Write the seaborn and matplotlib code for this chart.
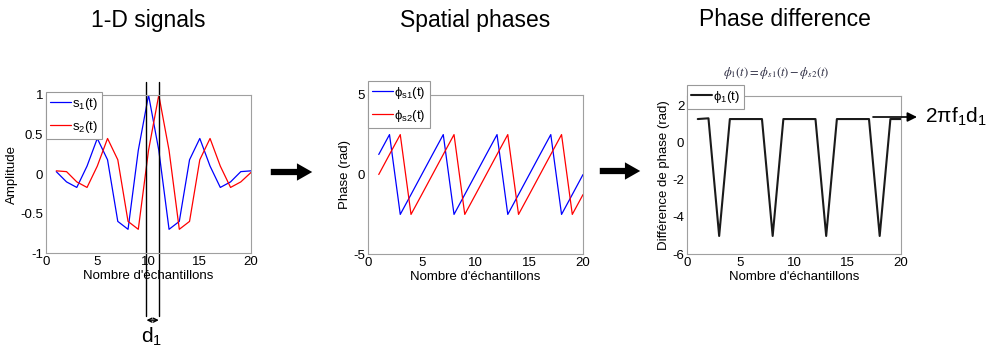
import pandas as pd
import matplotlib.pyplot as plt
import seaborn as sns

samples = [1, 2, 3, 4, 5, 6, 7, 8, 9, 10, 11, 12, 13, 14, 15, 16, 17, 18, 19, 20]
s1 = [0.03, -0.1, -0.17, 0.1, 0.45, 0.18, -0.6, -0.7, 0.3, 1.0,
      0.3, -0.7, -0.6, 0.18, 0.45, 0.1, -0.17, -0.1, 0.03, 0.04]
s2 = [0.04, 0.03, -0.1, -0.17, 0.1, 0.45, 0.18, -0.6, -0.7, 0.3,
      1.0, 0.3, -0.7, -0.6, 0.18, 0.45, 0.1, -0.17, -0.1, 0.02]
phi_s1 = [1.26, 2.51, -2.51, -1.26, 0.0, 1.26, 2.51, -2.51, -1.26, 0.0,
          1.26, 2.51, -2.51, -1.26, 0.0, 1.26, 2.51, -2.51, -1.26, 0.0]
phi_s2 = [0.0, 1.26, 2.51, -2.51, -1.26, 0.0, 1.26, 2.51, -2.51, -1.26,
          0.0, 1.26, 2.51, -2.51, -1.26, 0.0, 1.26, 2.51, -2.51, -1.26]
phi_1 = [1.26, 1.3, -5.03, 1.26, 1.26, 1.26, 1.26, -5.03, 1.26, 1.26,
         1.26, 1.26, -5.03, 1.26, 1.26, 1.26, 1.26, -5.03, 1.26, 1.26]

titles = ['1-D signals', 'Spatial phases', 'Phase difference']
xlabel = "Nombre d'échantillons"
ylabels = ['Amplitude', 'Phase (rad)', 'Différence de phase (rad)']

df = pd.DataFrame({'n': samples, 's1': s1, 's2': s2,
                   'ps1': phi_s1, 'ps2': phi_s2, 'p1': phi_1})

sns.set_style('white')
plt.rcParams['font.family'] = ['Liberation Sans', 'DejaVu Sans']
plt.rcParams['mathtext.fontset'] = 'custom'
plt.rcParams['mathtext.rm'] = 'Liberation Sans'
plt.rcParams['mathtext.it'] = 'Liberation Sans:italic'
plt.rcParams['axes.unicode_minus'] = False
for k in ['text.color', 'axes.labelcolor', 'xtick.labelcolor', 'ytick.labelcolor']:
    plt.rcParams[k] = 'black'

fig = plt.figure(figsize=(10.03, 3.57), dpi=100)
ax1 = fig.add_axes([0.0459, 0.2913, 0.2044, 0.4426])
ax2 = fig.add_axes([0.3669, 0.2885, 0.2144, 0.4454])
ax3 = fig.add_axes([0.6850, 0.2885, 0.2134, 0.4426])

sns.lineplot(data=df, x='n', y='s1', ax=ax1, color='#0000ff', lw=0.9, label=r'$\mathrm{s_1(t)}$')
sns.lineplot(data=df, x='n', y='s2', ax=ax1, color='#ff0000', lw=0.9, label=r'$\mathrm{s_2(t)}$')
sns.lineplot(data=df, x='n', y='ps1', ax=ax2, color='#0000ff', lw=0.9, label=r'$\mathrm{\phi_{s1}(t)}$')
sns.lineplot(data=df, x='n', y='ps2', ax=ax2, color='#ff0000', lw=0.9, label=r'$\mathrm{\phi_{s2}(t)}$')
sns.lineplot(data=df, x='n', y='p1', ax=ax3, color='#1a1a1a', lw=1.5, label=r'$\mathrm{\phi_1(t)}$')

ax1.set_ylim(-1, 1)
ax1.set_yticks([-1, -0.5, 0, 0.5, 1])
ax1.set_yticklabels(['-1', '-0.5', '0', '0.5', '1'])
ax2.set_ylim(-5, 5)
ax2.set_yticks([-5, 0, 5])
ax3.set_ylim(-6, 2.5)
ax3.set_yticks([-6, -4, -2, 0, 2])

legend_y = [1.02, 1.09, 1.07]
for ax, yl, ly in zip([ax1, ax2, ax3], ylabels, legend_y):
    ax.set_xlim(0, 20)
    ax.set_xticks([0, 5, 10, 15, 20])
    ax.set_xlabel(xlabel, fontsize=9.5, labelpad=1.5)
    ax.set_ylabel(yl, fontsize=9.5, labelpad=2)
    ax.tick_params(labelsize=9.5, direction='in', length=3, color='#999999', pad=2)
    for sp in ax.spines.values():
        sp.set_color('#a0a0a0')
        sp.set_linewidth(0.8)
    leg = ax.legend(loc='upper left', bbox_to_anchor=(0, ly), borderaxespad=0,
                    fontsize=9.5, handlelength=1.6, handletextpad=0.1,
                    labelspacing=0.55, borderpad=0.3, fancybox=False, framealpha=1)
    leg.get_frame().set_edgecolor('#999999')
    leg.get_frame().set_linewidth(0.8)

# titles
for xc, t in zip([148, 475, 785], titles):
    fig.text(xc / 1003, 1 - 20 / 357, t, ha='center', va='center', fontsize=16.5)

# d1 marker on the first panel
for xv in [9.8, 11]:
    ax1.axvline(xv, ymin=-0.4, ymax=1.085, color='black', lw=1.0, clip_on=False)
ax1.annotate('', xy=(11, -1.85), xytext=(9.8, -1.85),
             arrowprops=dict(arrowstyle='<->', lw=1, color='black',
                             shrinkA=0, shrinkB=0, mutation_scale=7),
             annotation_clip=False)
ax1.text(10.3, -2.06, r'$\mathrm{d_1}$', ha='center', va='center', fontsize=15)

# big arrows between panels
for x0, x1, yy in [(268, 315, 185), (597, 643, 186)]:
    fig.patches.append(plt.matplotlib.patches.FancyArrowPatch(
        (x0 / 1003, yy / 357), (x1 / 1003, yy / 357), transform=fig.transFigure,
        arrowstyle='simple,head_width=1.25,head_length=1.1,tail_width=0.45',
        mutation_scale=10, color='black', lw=0))

# formula and 2*pi*f1*d1 label on the third panel
fig.text(776 / 1003, 1 - 73 / 357, r'$\phi_1(t) = \phi_{s1}(t) - \phi_{s2}(t)$',
         ha='center', va='center', fontsize=9, color='#2a2a40', math_fontfamily='stix')
ax3.annotate('', xy=(917 / 1003, 1 - 117 / 357), xytext=(873 / 1003, 1 - 117 / 357),
             xycoords='figure fraction', textcoords='figure fraction',
             arrowprops=dict(arrowstyle='-|>', lw=1.2, color='black',
                             shrinkA=0, shrinkB=0, mutation_scale=14),
             annotation_clip=False)
fig.text(925 / 1003, 1 - 117 / 357, r'$\mathrm{2\pi f_1 d_1}$', ha='left', va='center', fontsize=15)

plt.savefig('out.png', dpi=100)
